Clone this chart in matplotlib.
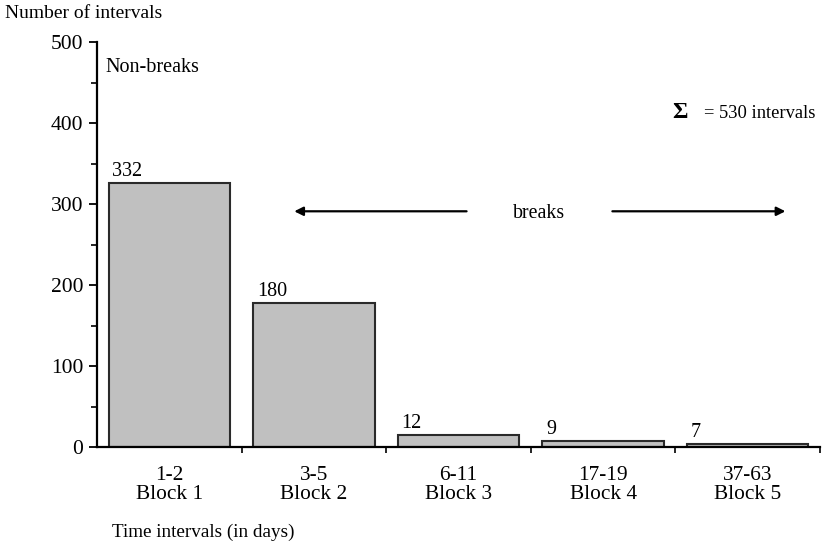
import matplotlib
matplotlib.use("Agg")
import matplotlib.pyplot as plt
from matplotlib.ticker import MultipleLocator

plt.rcParams['font.family'] = ['Liberation Serif', 'DejaVu Serif']

ranges = ["1-2", "3-5", "6-11", "17-19", "37-63"]
blocks = ["Block 1", "Block 2", "Block 3", "Block 4", "Block 5"]
heights = [326, 178, 15, 7.5, 4]
value_labels = ["332", "180", "12", "9", "7"]

W, H = 824, 547
fig = plt.figure(figsize=(W/100, H/100), dpi=100)
ax = fig.add_axes([97/W, 1-447/H, (820-97)/W, (447-42)/H])

x = list(range(len(ranges)))
bw = 0.84
ax.bar(x, heights, width=bw, color="#c0c0c0", edgecolor="#2a2a2a", linewidth=1.5, zorder=2)

for xi, h, lab in zip(x, heights, value_labels):
    ax.text(xi - bw/2 + 0.025, h + 8, lab, ha="left", va="baseline", fontsize=14.5)

ax.set_xlim(-0.5, 4.5)
ax.set_ylim(0, 500)
ax.spines['top'].set_visible(False)
ax.spines['right'].set_visible(False)
ax.spines['left'].set_linewidth(1.6)
ax.spines['bottom'].set_linewidth(1.6)

ax.yaxis.set_major_locator(MultipleLocator(100))
ax.yaxis.set_minor_locator(MultipleLocator(50))
ax.tick_params(axis='y', which='major', length=6, width=1.3, labelsize=15.5, direction='out', pad=4)
ax.tick_params(axis='y', which='minor', length=4, width=1.2, direction='out')

ax.set_xticks([i + 0.5 for i in range(5)])
ax.set_xticklabels([])
ax.tick_params(axis='x', which='major', length=4, width=1.2, direction='out')
ax.set_xticks(x, minor=True)
ax.set_xticklabels([f"{r}\n{b}" for r, b in zip(ranges, blocks)], minor=True,
                   fontsize=15.4, linespacing=0.95)
ax.tick_params(axis='x', which='minor', length=0, pad=14)

fig.text(5/W, 1-18/H, "Number of intervals", ha="left", va="baseline", fontsize=14)
fig.text(112/W, 1-537/H, "Time intervals (in days)", ha="left", va="baseline", fontsize=13.8)
ax.text(-0.445, 463, "Non-breaks", ha="left", va="baseline", fontsize=14.5)

ax.text(3.475, 406, "\u03a3", ha="left", va="baseline", fontsize=17, fontweight="bold")
ax.text(3.70, 406, "= 530 intervals", ha="left", va="baseline", fontsize=13.3)

ax.text(2.555, 283, "breaks", ha="center", va="baseline", fontsize=14.3)
ax.annotate("", xy=(0.845, 291), xytext=(2.075, 291),
            arrowprops=dict(arrowstyle="-|>", color="black", lw=1.6, mutation_scale=13))
ax.annotate("", xy=(4.28, 291), xytext=(3.045, 291),
            arrowprops=dict(arrowstyle="-|>", color="black", lw=1.6, mutation_scale=13))

fig.savefig("out.png", dpi=100)
